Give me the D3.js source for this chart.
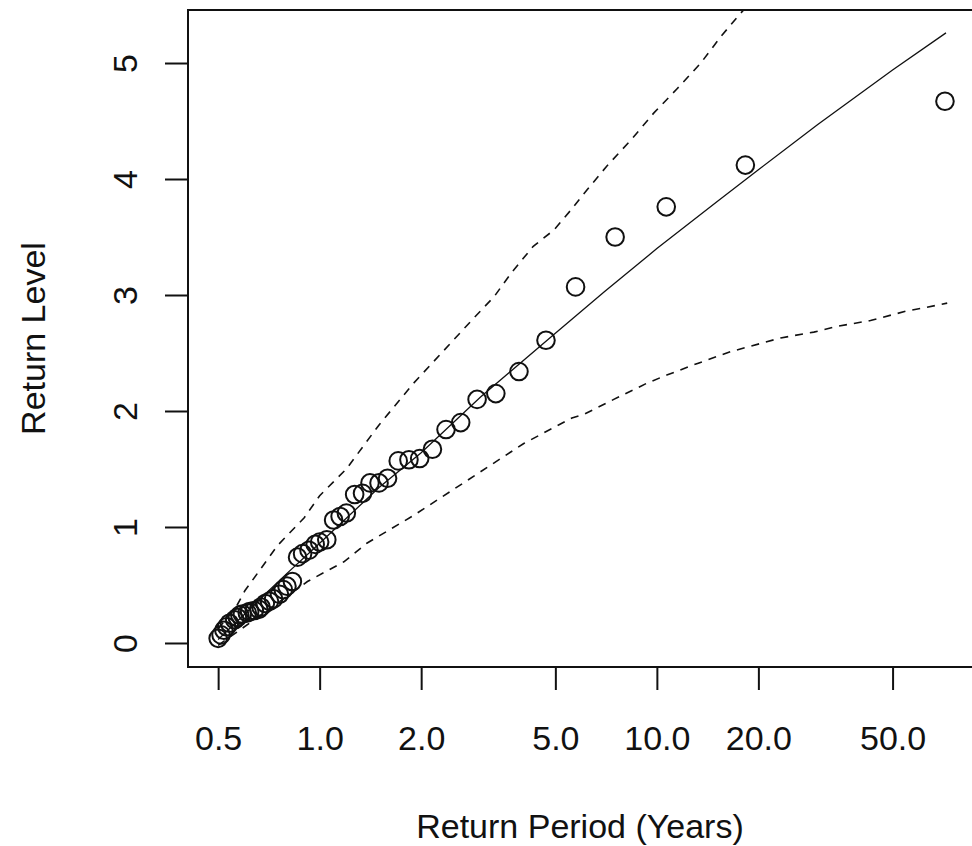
<!DOCTYPE html>
<html>
<head>
<meta charset="utf-8">
<script src="https://cdn.jsdelivr.net/npm/d3@7"></script>
<style>
  html, body { margin: 0; padding: 0; background: #fff; overflow: hidden; }
  svg { display: block; }
  text { font-family: "Liberation Sans", Arial, Helvetica, sans-serif; fill: #111; }
  .axis text { font-size: 34px; }
  .axis line { stroke: #111; stroke-width: 2; }
  .axis-title { font-size: 34px; }
</style>
</head>
<body>
<svg id="Vis1" width="972" height="846"></svg>
<script>
const width = 972;
const height = 846;

let periods = [0.50, 0.51, 0.52, 0.53, 0.54, 0.56, 0.57, 0.58, 0.59, 0.61,
  0.62, 0.64, 0.66, 0.67, 0.69, 0.71, 0.73, 0.76, 0.78, 0.80,
  0.83, 0.86, 0.89, 0.93, 0.97, 1.00, 1.05, 1.10, 1.15, 1.20,
  1.27, 1.34, 1.41, 1.50, 1.59, 1.71, 1.84, 1.98, 2.16, 2.37,
  2.62, 2.93, 3.33, 3.90, 4.69, 5.74, 7.52, 10.66, 18.3, 71.5];
let levels = [0.04, 0.07, 0.11, 0.14, 0.17, 0.20, 0.22, 0.24, 0.25, 0.26,
  0.27, 0.28, 0.29, 0.31, 0.34, 0.36, 0.38, 0.42, 0.46, 0.49,
  0.53, 0.74, 0.77, 0.80, 0.85, 0.87, 0.89, 1.06, 1.09, 1.12,
  1.28, 1.29, 1.38, 1.38, 1.42, 1.57, 1.58, 1.59, 1.67, 1.84,
  1.90, 2.10, 2.15, 2.34, 2.61, 3.07, 3.50, 3.76, 4.12, 4.67];

// Fitted return level curve
let fitPeriods = [0.5, 0.6, 0.7, 0.8, 1.0, 1.5, 2, 3, 5, 7, 10, 15, 20, 30, 50, 72];
let fitLevels = [0.03, 0.25, 0.44, 0.60, 0.86, 1.34, 1.64, 2.12, 2.67, 3.03, 3.40, 3.80, 4.08, 4.47, 4.94, 5.26];

// Upper confidence bound
let upperPeriods = [0.5, 0.57, 0.6, 0.75, 0.9, 1.0, 1.2, 1.5, 1.9, 2.8, 3.3, 3.7, 4.3, 4.95,
  5.55, 6.1, 7.1, 8.4, 9.8, 11.5, 13.5, 15.5, 17.6, 25, 40, 72];
let upperLevels = [0.12, 0.33, 0.45, 0.84, 1.08, 1.27, 1.50, 1.88, 2.24, 2.77, 2.99, 3.19, 3.42, 3.56,
  3.73, 3.88, 4.11, 4.34, 4.57, 4.78, 5.00, 5.23, 5.42, 5.90, 6.60, 7.50];

// Lower confidence bound
let lowerPeriods = [0.5, 0.7, 0.92, 1.18, 1.38, 1.9, 2.67, 4.03, 5.6, 6.07, 7.45, 9.35, 10.7,
  13.2, 16.5, 18.5, 23.3, 29.2, 34.3, 43, 54.7, 62, 72.6];
let lowerLevels = [-0.02, 0.28, 0.53, 0.70, 0.86, 1.10, 1.38, 1.72, 1.94, 1.97, 2.10, 2.24, 2.31,
  2.41, 2.51, 2.55, 2.63, 2.68, 2.73, 2.78, 2.86, 2.89, 2.93];

let xTicks = [0.5, 1, 2, 5, 10, 20, 50];
let yTicks = [0, 1, 2, 3, 4, 5];

const margin = {
  top: 10,
  bottom: 179,
  left: 188,
  right: 0
};

let svg = d3.select("body").select("svg#Vis1");

let plotWidth = width - margin.left - margin.right;
let plotHeight = height - margin.top - margin.bottom;

/* SCALES */

let xScale = d3.scaleLog()
  .domain([0.407, 86])
  .range([0, plotWidth]);

let yScale = d3.scaleLinear()
  .domain([-0.207, 5.457])
  .range([plotHeight, 0]);

const plot = svg.append("g").attr("id", "plot")
  .attr("transform", translate(margin.left, margin.top));

plot.append("clipPath").attr("id", "clip")
  .append("rect")
  .attr("width", plotWidth)
  .attr("height", plotHeight);

/* AXES */

let xAxis = d3.axisBottom(xScale)
  .tickValues(xTicks)
  .tickFormat(d3.format(".1f"))
  .tickSizeInner(23)
  .tickSizeOuter(0)
  .tickPadding(36);

let yAxis = d3.axisLeft(yScale)
  .tickValues(yTicks)
  .tickFormat(d3.format("d"))
  .tickSizeInner(23)
  .tickSizeOuter(0);

let xGroup = plot.append("g").attr("class", "axis")
  .attr("transform", translate(0, plotHeight))
  .call(xAxis);
xGroup.select(".domain").remove();

let yGroup = plot.append("g").attr("class", "axis").call(yAxis);
yGroup.select(".domain").remove();
yGroup.selectAll("text")
  .attr("transform", "rotate(-90)")
  .attr("x", 0)
  .attr("y", -51)
  .attr("dy", 0)
  .attr("text-anchor", "middle");

/* LINES */

const line = d3.line()
  .x(d => xScale(d[0]))
  .y(d => yScale(d[1]));

const lines = plot.append("g").attr("clip-path", "url(#clip)");

lines.append("path")
  .datum(d3.zip(fitPeriods, fitLevels))
  .attr("d", line)
  .attr("fill", "none")
  .attr("stroke", "#111")
  .attr("stroke-width", 1.3);

lines.append("path")
  .datum(d3.zip(upperPeriods, upperLevels))
  .attr("d", line)
  .attr("fill", "none")
  .attr("stroke", "#111")
  .attr("stroke-width", 1.6)
  .attr("stroke-dasharray", "8,7");

lines.append("path")
  .datum(d3.zip(lowerPeriods, lowerLevels))
  .attr("d", line)
  .attr("fill", "none")
  .attr("stroke", "#111")
  .attr("stroke-width", 1.6)
  .attr("stroke-dasharray", "8,7");

/* POINTS */

lines.selectAll("circle")
  .data(d3.zip(periods, levels))
  .enter()
  .append("circle")
    .attr("cx", d => xScale(d[0]))
    .attr("cy", d => yScale(d[1]))
    .attr("r", 8.8)
    .attr("fill", "none")
    .attr("stroke", "#111")
    .attr("stroke-width", 2);

/* BOX */

plot.append("rect")
  .attr("x", 0)
  .attr("y", 0)
  .attr("width", plotWidth + 3)
  .attr("height", plotHeight)
  .attr("fill", "none")
  .attr("stroke", "#111")
  .attr("stroke-width", 2);

/* AXIS TITLES */

svg.append("text")
  .attr("class", "axis-title")
  .attr("x", margin.left + midpoint(xScale.range()))
  .attr("y", 838)
  .attr("text-anchor", "middle")
  .text("Return Period (Years)");

svg.append("g")
  .attr("transform", translate(45, margin.top + midpoint(yScale.range())))
  .append("text")
  .attr("class", "axis-title")
  .attr("transform", "rotate(-90)")
  .attr("text-anchor", "middle")
  .text("Return Level");

function midpoint(range) {
  return range[0] + (range[1] - range[0]) / 2.0;
}

function translate(x, y) {
  return 'translate(' + String(x) + ',' + String(y) + ')';
}
</script>
</body>
</html>
